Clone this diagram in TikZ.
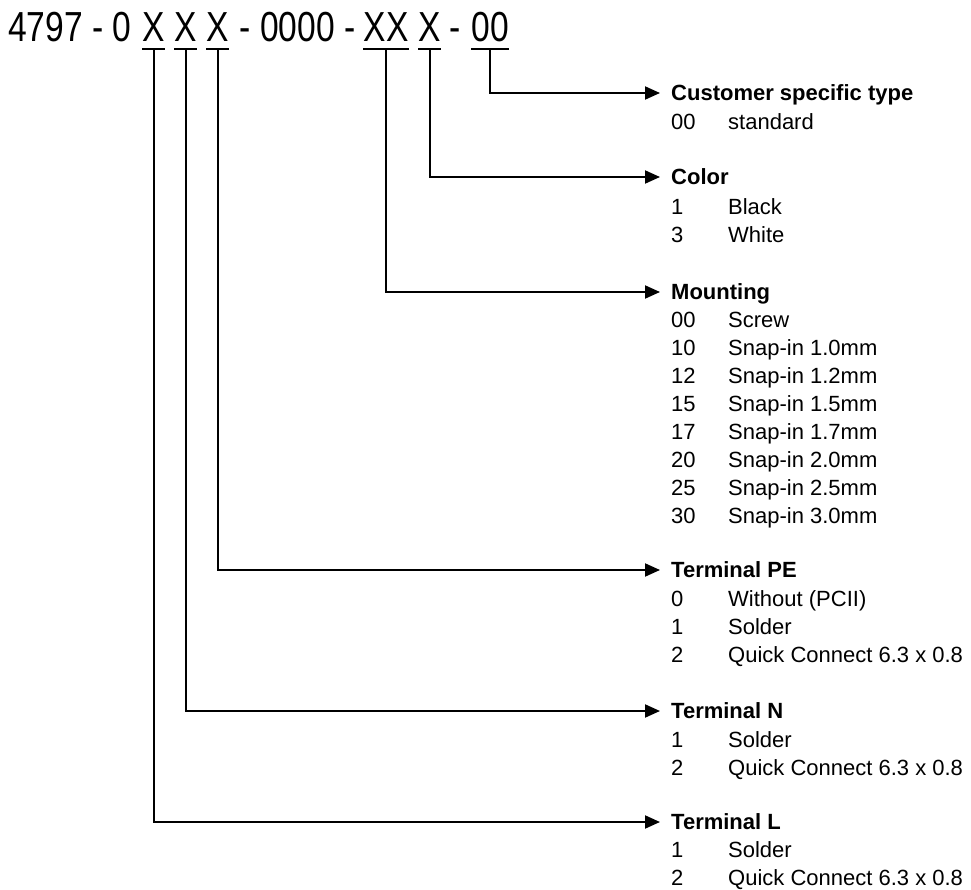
\documentclass[tikz,border=0pt]{standalone}
\usepackage{fontspec}
\setmainfont{Liberation Sans}
\newfontfamily\headfont[FakeStretch=0.8]{Liberation Sans}
\usetikzlibrary{arrows.meta,positioning}
\tikzset{
	part/.style={inner sep=0pt, anchor=base, font=\headfont\fontsize{42}{50}\selectfont},
	uline/.style={line width=2pt},
	link/.style={line width=2pt, -{Triangle[length=15pt,width=13pt]}, shorten >=11pt},
	title/.style={inner sep=0pt, anchor=west, text height=15pt, text depth=0pt, font=\bfseries\fontsize{22}{28}\selectfont},
	items/.style={inner sep=0pt, anchor=base west, font=\fontsize{22}{28}\selectfont},
}
\newcommand{\optlist}[1]{\begin{tabular}[t]{@{}p{57pt}@{}l@{}}#1\end{tabular}}
\begin{document}
\begin{tikzpicture}[x=1pt,y=-1pt]
	\useasboundingbox (0,0) rectangle (971,890);
	% part number
	\node[part, anchor=base west] (h1) at (8,42) {4797 - 0};
	\node[part] (x1) at (153.5,42) {X};
	\node[part] (x2) at (185.5,42) {X};
	\node[part] (x3) at (217.5,42) {X};
	\node[part] (h2) at (297.5,42) {- 0000 -};
	\node[part] (xx) at (386,42) {XX};
	\node[part] (x4) at (429.5,42) {X};
	\node[part] (h3) at (455,42) {-};
	\node[part] (cs) at (490,42) {00};
	\foreach \n in {x1,x2,x3,xx,x4,cs}
		\draw[uline] ([yshift=-7pt]\n.base west) -- ([yshift=-7pt]\n.base east);
	% fields
	\node[title] (ct) at (671,93) {Customer specific type};
	\node[items] (cti) at ([yshift=-29pt]ct.south west) {\optlist{00 & standard\\}};
	\node[title] (co) at (671,177) {Color};
	\node[items] (coi) at ([yshift=-30pt]co.south west) {\optlist{1 & Black\\ 3 & White\\}};
	\node[title] (mo) at (671,292) {Mounting};
	\node[items] (moi) at ([yshift=-28pt]mo.south west) {\optlist{00 & Screw\\ 10 & Snap-in 1.0mm\\ 12 & Snap-in 1.2mm\\ 15 & Snap-in 1.5mm\\ 17 & Snap-in 1.7mm\\ 20 & Snap-in 2.0mm\\ 25 & Snap-in 2.5mm\\ 30 & Snap-in 3.0mm\\}};
	\node[title] (tpe) at (671,570) {Terminal PE};
	\node[items] (tpei) at ([yshift=-29pt]tpe.south west) {\optlist{0 & Without (PCII)\\ 1 & Solder\\ 2 & Quick Connect 6.3 x 0.8\\}};
	\node[title] (tn) at (671,711) {Terminal N};
	\node[items] (tni) at ([yshift=-29pt]tn.south west) {\optlist{1 & Solder\\ 2 & Quick Connect 6.3 x 0.8\\}};
	\node[title] (tl) at (671,822) {Terminal L};
	\node[items] (tli) at ([yshift=-28pt]tl.south west) {\optlist{1 & Solder\\ 2 & Quick Connect 6.3 x 0.8\\}};
	% connectors
	\draw[link] ([yshift=-7pt]cs.base) |- (ct.west);
	\draw[link] ([yshift=-7pt]x4.base) |- (co.west);
	\draw[link] ([yshift=-7pt]xx.base) |- (mo.west);
	\draw[link] ([yshift=-7pt]x3.base) |- (tpe.west);
	\draw[link] ([yshift=-7pt]x2.base) |- (tn.west);
	\draw[link] ([yshift=-7pt]x1.base) |- (tl.west);
\end{tikzpicture}
\end{document}
